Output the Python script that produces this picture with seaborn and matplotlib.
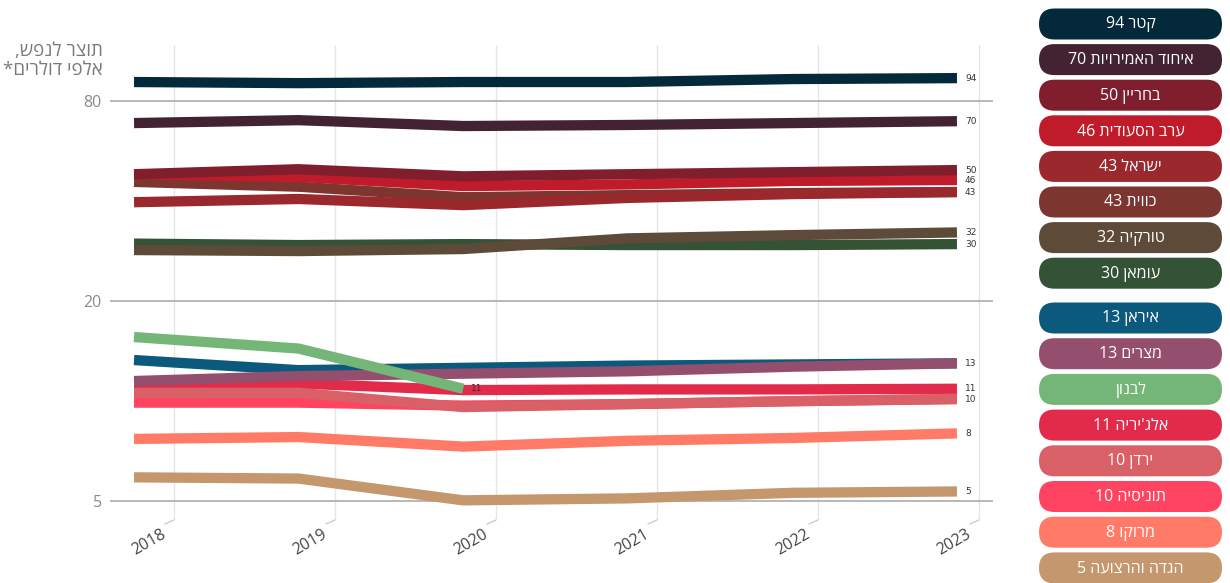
import numpy as np
import pandas as pd
import matplotlib
matplotlib.use("Agg")
import matplotlib.pyplot as plt
import seaborn as sns
from matplotlib.patches import FancyBboxPatch
from matplotlib.transforms import ScaledTranslation, blended_transform_factory

nan = np.nan
years = [2018, 2019, 2020, 2021, 2022, 2023]

names = ["קטר", "איחוד האמירויות", "בחריין", "ערב הסעודית", "ישראל", "כווית",
         "טורקיה", "עומאן", "איראן", "מצרים", "לבנון", "אלג'יריה", "ירדן",
         "תוניסיה", "מרוקו", "הגדה והרצועה"]

qatar = [91.3, 90.6, 91.3, 91.3, 93.2, 93.8]
uae = [68.7, 70.1, 67.3, 67.8, 68.7, 69.6]
bahrain = [48.2, 49.9, 47.5, 48.2, 48.9, 49.6]
saudi = [48.2, 47.3, 44.4, 44.9, 46.0, 46.3]
israel = [39.7, 40.6, 38.9, 40.9, 42.0, 42.6]
kuwait = [45.7, 44.2, 41.1, 41.7, 42.3, 42.6]
turkey = [28.5, 28.3, 28.7, 30.9, 31.6, 32.2]
oman = [29.8, 29.5, 29.7, 29.5, 29.5, 29.7]
iran = [13.3, 12.4, 12.6, 12.8, 12.9, 13.0]
egypt = [11.5, 11.9, 12.1, 12.3, 12.7, 13.0]
lebanon = [15.6, 14.4, 10.9, nan, nan, nan]
algeria = [11.3, 11.3, 10.8, 10.85, 10.85, 10.9]
jordan = [10.6, 10.6, 9.6, 9.8, 10.0, 10.15]
tunisia = [9.9, 9.9, 9.7, 9.8, 10.0, 10.15]
morocco = [7.7, 7.8, 7.3, 7.6, 7.75, 8.0]
gaza = [5.9, 5.85, 5.03, 5.1, 5.3, 5.35]

series = [qatar, uae, bahrain, saudi, israel, kuwait, turkey, oman,
          iran, egypt, lebanon, algeria, jordan, tunisia, morocco, gaza]

colors = ["#03293a", "#432232", "#811e2e", "#bf1b2b", "#9a282d", "#7c352f",
          "#5e4a38", "#345235", "#0b5a7d", "#944f6e", "#74b677", "#e22a4a",
          "#d86066", "#ff4461", "#ff7b68", "#c4976d"]

y_ticks = [5, 20, 80]

draw_order = ["עומאן", "טורקיה", "כווית", "ישראל", "ערב הסעודית", "בחריין",
              "איחוד האמירויות", "קטר", "תוניסיה", "אלג'יריה", "ירדן",
              "איראן", "מצרים", "מרוקו", "הגדה והרצועה", "לבנון"]


def vis(s):
    """Convert logical RTL Hebrew string to visual order for matplotlib."""
    words = s.split(" ")
    out = []
    for w in reversed(words):
        if any("\u0590" <= ch <= "\u05ff" for ch in w):
            out.append(w[::-1])
        else:
            out.append(w)
    return " ".join(out)


rows = []
for n, vals in zip(names, series):
    for y, v in zip(years, vals):
        rows.append({"country": n, "year": y, "value": v})
df = pd.DataFrame(rows).dropna()

sns.set_theme(style="white")
plt.rcParams["font.family"] = ["Open Sans", "DejaVu Sans"]

fig = plt.figure(figsize=(12.3, 5.83), dpi=100)
W, H = 1230, 583
ax = fig.add_axes([110 / W, 1 - 520 / H, (993 - 110) / W, (520 - 45) / H])

palette = dict(zip(names, colors))
for n in draw_order:
    sub = df[df.country == n]
    sns.lineplot(data=sub, x="year", y="value", color=palette[n], linewidth=7.4,
                 ax=ax, legend=False, sort=False, estimator=None,
                 solid_capstyle="butt", solid_joinstyle="round", zorder=3)

ax.set_yscale("log")
ax.set_ylim(4.39, 118)
ax.set_xlim(2017.854, 2023.219)
ax.set_yticks(y_ticks)
ax.set_yticklabels([str(t) for t in y_ticks])
ax.minorticks_off()
xt = np.linspace(2018.243, 2023.134, 6)
ax.set_xticks(xt)
ax.set_xticklabels([])
ax.tick_params(axis="x", length=0)
ax.tick_params(axis="y", length=0, colors="#8a8a8a", labelsize=11.5, pad=6)
for sp in ax.spines.values():
    sp.set_visible(False)
ax.set_xlabel("")
ax.set_ylabel("")
for x in xt:
    ax.axvline(x, color="#e6e6e6", lw=1, zorder=0)
for t in y_ticks:
    ax.axhline(t, color="#ababab", lw=1.2, zorder=1)

# rotated year labels and little diagonal ticks below the gridlines
bt = blended_transform_factory(ax.transData, ax.transAxes)
for x, yr in zip(xt, years):
    off = ScaledTranslation(-13 / 100, -6 / 100, fig.dpi_scale_trans)
    ax.text(x, 0, str(yr), transform=bt + off, rotation=30, ha="right",
            va="top", rotation_mode="anchor", fontsize=11.5, color="#444444",
            clip_on=False)
    ax.annotate("", xy=(x, 0), xycoords=bt, xytext=(-9, -4),
                textcoords="offset pixels", annotation_clip=False,
                arrowprops=dict(arrowstyle="-", color="#cccccc", lw=1,
                                shrinkA=0, shrinkB=0))

# end labels
seen = set()
for n, vals in zip(names, series):
    idx = max(i for i, v in enumerate(vals) if not np.isnan(v))
    v = vals[idx]
    key = (idx, int(round(v)))
    if key in seen:
        continue
    seen.add(key)
    ax.annotate(f"{round(v):d}", (years[idx], v), xytext=(8, 0),
                textcoords="offset pixels", va="center", ha="left",
                fontsize=6.5, color="#333333", zorder=5,
                family="DejaVu Sans")

fig.text(103 / W, 1 - 42 / H, vis("תוצר לנפש,") + "\n" + vis("אלפי דולרים*"),
         ha="right", va="top", color="#7a7a7a", fontsize=13.5,
         multialignment="right", linespacing=1.1)

# legend pills
lax = fig.add_axes([0, 0, 1, 1], facecolor="none")
lax.set_xlim(0, W)
lax.set_ylim(H, 0)
lax.axis("off")
for i, (n, vals, c) in enumerate(zip(names, series, colors)):
    if i < 8:
        cy = 24 + 35.6 * i
    else:
        cy = 318 + 35.7 * (i - 8)
    last = vals[-1]
    label = n if np.isnan(last) else f"{n} {round(last):d}"
    pill = FancyBboxPatch((1039, cy - 15.5), 183, 31,
                          boxstyle="round,pad=0,rounding_size=15.5",
                          facecolor=c, edgecolor="none")
    lax.add_patch(pill)
    lax.text(1130.5, cy + 0.5, vis(label), ha="center", va="center",
             color="white", fontsize=11.5)

fig.savefig("out.png", dpi=100)
